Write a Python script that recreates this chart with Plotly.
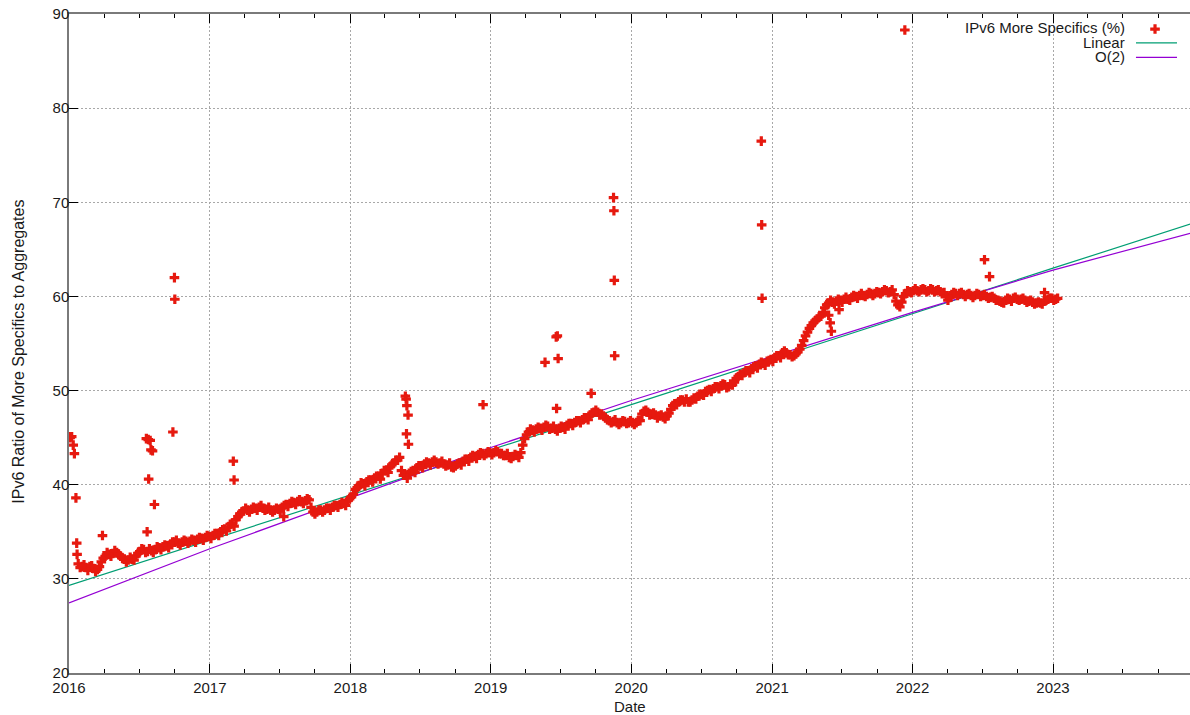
import pandas as pd
import plotly.graph_objects as go

# ---------------- data ----------------
# main series: samples every 10 days starting 2016-01-25
series_start = "2016-01-25"
ratio = [
    # 2016
    31.6, 31.3, 31.2, 31.3, 31.1, 31.0, 31.8, 32.4, 32.6, 32.7,
    32.8, 32.4, 32.1, 32.0, 32.1, 32.4, 32.9, 33.1, 32.9, 33.0,
    33.1, 33.3, 33.4, 33.5, 33.7, 33.9, 33.8, 33.9, 34.0, 34.0,
    34.1, 34.2, 34.3, 34.4, 34.5,
    # 2017
    34.6, 34.8, 35.0, 35.3, 35.5, 35.9, 36.3, 36.9, 37.2, 37.3,
    37.4, 37.5, 37.6, 37.5, 37.4, 37.3, 37.3, 37.4, 37.6, 37.9,
    38.0, 38.1, 38.2, 38.2, 38.3, 38.4, 37.1, 37.1, 37.3, 37.3,
    37.5, 37.6, 37.8, 37.9, 38.0, 38.3,
    # 2018
    38.7, 39.5, 39.9, 40.1, 40.3, 40.5, 40.7, 40.9, 41.2, 41.5,
    41.9, 42.3, 42.6, 41.5, 41.0, 41.2, 41.5, 41.8, 42.0, 42.2,
    42.3, 42.4, 42.4, 42.3, 42.2, 42.1, 41.9, 42.0, 42.3, 42.5,
    42.7, 42.9, 43.0, 43.2, 43.3, 43.3, 43.4,
    # 2019
    43.4, 43.5, 43.3, 43.1, 42.9, 43.0, 43.1, 43.4, 44.9, 45.6,
    45.8, 45.9, 46.0, 46.1, 46.2, 46.0, 45.9, 46.0, 46.1, 46.3,
    46.5, 46.6, 46.8, 46.9, 47.1, 47.4, 47.7, 47.7, 47.5, 47.1,
    46.8, 46.7, 46.6, 46.6, 46.7, 46.6,
    # 2020
    46.6, 46.6, 46.8, 47.8, 47.7, 47.5, 47.4, 47.3, 47.2, 47.3,
    48.0, 48.6, 48.8, 49.0, 49.1, 48.8, 49.2, 49.4, 49.6, 49.9,
    50.1, 50.2, 50.4, 50.5, 50.6, 50.4, 50.6, 51.3, 51.7, 51.9,
    52.1, 52.3, 52.6, 52.8, 52.9, 53.1, 53.3,
    # 2021
    53.5, 53.7, 54.0, 54.0, 53.8, 53.7, 54.1, 54.8, 55.8, 56.6,
    57.2, 57.6, 57.9, 58.8, 59.3, 59.4, 59.5, 59.6, 59.7, 59.7,
    59.9, 60.0, 60.1, 60.1, 60.2, 60.3, 60.3, 60.4, 60.5, 60.6,
    60.5, 60.2, 59.1, 59.4, 60.3, 60.5,
    # 2022
    60.6, 60.6, 60.7, 60.7, 60.6, 60.7, 60.6, 60.5, 60.4, 59.6,
    60.2, 60.3, 60.3, 60.2, 60.2, 60.1, 60.1, 60.2, 60.1, 60.0,
    59.9, 59.8, 59.6, 59.4, 59.6, 59.7, 59.8, 59.7, 59.7, 59.6,
    59.5, 59.4, 59.3, 59.3, 59.5, 59.7, 59.8, 59.7,
]

# second set of daily readings, 5 days after each of the above (the band's spread)
series_b_start = "2016-01-30"
ratio_b = [
    # 2016
    31.2, 31.5, 30.9, 31.4, 30.8, 31.3, 32.2, 32.8, 32.4, 33.0,
    32.6, 32.2, 31.8, 32.3, 32.0, 32.7, 33.2, 32.8, 33.2, 32.8,
    33.4, 33.1, 33.6, 33.3, 33.9, 34.1, 33.6, 34.1, 33.8, 34.2,
    33.9, 34.4, 34.1, 34.6, 34.3,
    # 2017
    34.8, 34.6, 35.2, 35.1, 35.8, 35.6, 36.6, 37.1, 37.5, 37.1,
    37.6, 37.3, 37.8, 37.3, 37.6, 37.1, 37.5, 37.2, 37.8, 37.7,
    38.2, 37.9, 38.4, 38.0, 38.5, 37.6, 36.9, 37.3, 37.1, 37.5,
    37.3, 37.8, 37.6, 38.1, 37.8, 38.5,
    # 2018
    39.0, 39.7, 40.2, 39.9, 40.5, 40.3, 40.9, 40.6, 41.5, 41.3,
    42.1, 42.6, 42.9, 41.0, 40.7, 41.4, 41.3, 42.0, 41.8, 42.4,
    42.1, 42.6, 42.2, 42.5, 42.0, 42.3, 41.8, 42.2, 42.1, 42.7,
    42.5, 43.1, 42.8, 43.4, 43.1, 43.5, 43.2,
    # 2019
    43.6, 43.3, 43.1, 43.3, 42.8, 43.2, 42.9, 44.2, 45.3, 45.9,
    45.6, 46.1, 45.8, 46.3, 45.9, 46.2, 45.7, 46.2, 45.9, 46.5,
    46.3, 46.8, 46.6, 47.1, 46.9, 47.6, 47.9, 47.4, 47.3, 46.9,
    46.6, 46.9, 46.4, 46.8, 46.5, 46.8,
    # 2020
    46.4, 46.8, 47.5, 47.9, 47.4, 47.6, 47.1, 47.4, 47.0, 47.6,
    48.4, 48.5, 49.0, 48.8, 48.8, 49.0, 49.1, 49.6, 49.5, 50.0,
    49.9, 50.4, 50.2, 50.7, 50.3, 50.7, 50.9, 51.5, 51.6, 52.1,
    51.9, 52.5, 52.4, 53.0, 52.7, 53.2, 53.1,
    # 2021
    53.7, 53.5, 54.2, 53.8, 53.6, 53.9, 54.4, 55.3, 56.2, 56.9,
    57.4, 57.8, 58.3, 59.1, 59.6, 59.2, 59.7, 59.4, 59.9, 59.6,
    60.1, 59.8, 60.3, 60.0, 60.4, 60.1, 60.5, 60.3, 60.7, 60.4,
    60.7, 59.5, 58.9, 60.0, 60.6, 60.4,
    # 2022
    60.8, 60.5, 60.8, 60.5, 60.8, 60.5, 60.7, 60.3, 60.0, 59.9,
    60.4, 60.1, 60.4, 60.0, 60.3, 59.9, 60.3, 60.0, 60.2, 59.8,
    60.0, 59.6, 59.5, 59.3, 59.8, 59.5, 59.9, 59.6, 59.8, 59.4,
    59.6, 59.2, 59.4, 59.2, 59.6, 59.8, 59.6, 59.8,
]

# isolated points / spikes
spike_dates = [
    "2016-01-01", "2016-01-04", "2016-01-08", "2016-01-12", "2016-01-15",
    "2016-01-19", "2016-01-21", "2016-01-22", "2016-03-28",
    "2016-07-20", "2016-07-25", "2016-07-30", "2016-08-01", "2016-08-05",
    "2016-07-26", "2016-08-10", "2016-07-22", "2016-09-27",
    "2016-10-01", "2016-10-02",
    "2017-03-03", "2017-03-05", "2017-07-12",
    "2018-05-24", "2018-05-26", "2018-05-28", "2018-05-31", "2018-05-27", "2018-06-01",
    "2018-12-12",
    "2019-05-22", "2019-06-20", "2019-06-23", "2019-06-25", "2019-06-21",
    "2019-09-19",
    "2019-11-16", "2019-11-17", "2019-11-18", "2019-11-19",
    "2020-12-04", "2020-12-05", "2020-12-06",
    "2021-05-28", "2021-06-01", "2021-06-04", "2021-06-24",
    "2021-12-12",
    "2022-07-07", "2022-07-20", "2022-12-10",
]
spike_values = [
    45.1, 45.0, 45.1, 44.2, 43.3,
    38.6, 33.8, 32.6, 34.6,
    44.9, 44.8, 44.7, 43.7, 43.6,
    40.6, 37.9, 35.0, 45.6,
    62.0, 59.7,
    42.5, 40.5, 36.6,
    49.4, 49.1, 48.4, 47.4, 45.4, 44.3,
    48.5,
    53.0, 55.7, 55.8, 53.4, 48.1,
    49.7,
    70.5, 69.1, 61.7, 53.7,
    76.5, 67.6, 59.8,
    58.0, 57.2, 56.3, 58.6,
    88.3,
    63.9, 62.1, 60.4,
]

# fitted curves, read at each year boundary
fit_dates = ["2016-01-01", "2017-01-01", "2018-01-01", "2019-01-01", "2020-01-01",
             "2021-01-01", "2022-01-01", "2023-01-01", "2024-01-01"]
linear_fit = [29.3, 34.1, 38.9, 43.7, 48.5, 53.35, 58.2, 63.0, 67.8]
quad_fit = [27.45, 33.2, 38.6, 43.95, 48.95, 53.6, 58.3, 62.8, 66.8]

legend_labels = ["IPv6 More Specifics (%)", "Linear", "O(2)"]
x_title = "Date"
y_title = "IPv6 Ratio of More Specifics to Aggregates"

RED = "#e6190f"
GREEN = "#009e73"
PURPLE = "#9400d3"
FONT = "Liberation Sans, Arial, sans-serif"
TXT = "#1a1a1a"

# ---------------- figure ----------------
dates_a = pd.date_range(series_start, periods=len(ratio), freq="10D")
dates_b = pd.date_range(series_b_start, periods=len(ratio_b), freq="10D")
all_x = list(dates_a) + list(dates_b) + [pd.Timestamp(d) for d in spike_dates]
all_y = ratio + ratio_b + spike_values

fig = go.Figure()
fig.add_trace(go.Scatter(x=fit_dates, y=linear_fit, mode="lines",
                         line=dict(color=GREEN, width=1.2), name="Linear",
                         showlegend=False, hoverinfo="skip"))
fig.add_trace(go.Scatter(x=fit_dates, y=quad_fit, mode="lines",
                         line=dict(color=PURPLE, width=1.2), name="O(2)",
                         showlegend=False, hoverinfo="skip"))
fig.add_trace(go.Scatter(x=all_x, y=all_y, mode="markers",
                         marker=dict(symbol="cross", size=8, color=RED, line=dict(width=0)),
                         name=legend_labels[0], showlegend=False))

# legend sample marker on an overlay axis spanning the plot
fig.add_trace(go.Scatter(x=[0.9688], y=[0.9772], mode="markers", xaxis="x2", yaxis="y2",
                         marker=dict(symbol="cross", size=8, color=RED, line=dict(width=0)),
                         showlegend=False, hoverinfo="skip", cliponaxis=False))

axis_common = dict(
    showgrid=True, gridcolor="#a8a8a8", griddash="2px,2px", gridwidth=1,
    ticks="inside", ticklen=9, tickcolor="#000000", tickwidth=1,
    showline=True, linecolor="#7a7a7a", linewidth=1.5,
    tickfont=dict(family=FONT, size=15, color=TXT),
    zeroline=False,
)

fig.update_layout(
    width=1190, height=715,
    margin=dict(l=69, r=0, t=14, b=42),
    paper_bgcolor="white", plot_bgcolor="white",
    font=dict(family=FONT, size=15, color=TXT),
    xaxis=dict(
        type="date", range=["2016-01-01", "2023-12-23"],
        tick0="2016-01-01", dtick="M12", tickformat="%Y",
        mirror="ticks",
        minor=dict(dtick="M3", ticks="inside", ticklen=4, tickcolor="#000000", showgrid=False),
        **axis_common,
    ),
    yaxis=dict(
        range=[20, 90], dtick=10, tick0=20,
        mirror=False, ticklabelstandoff=-5,
        **axis_common,
    ),
    xaxis2=dict(range=[0, 1], overlaying="x", visible=False, fixedrange=True),
    yaxis2=dict(range=[0, 1], overlaying="y", visible=False, fixedrange=True),
    showlegend=False,
)

# axis titles
fig.add_annotation(text=x_title, xref="paper", yref="paper", x=0.5, y=-0.0511,
                   xanchor="center", yanchor="middle", showarrow=False,
                   font=dict(family=FONT, size=15, color=TXT))
fig.add_annotation(text=y_title, xref="paper", yref="paper", x=-0.0458, y=0.487,
                   xanchor="center", yanchor="middle", showarrow=False, textangle=-90,
                   font=dict(family=FONT, size=16, color=TXT))

# white box behind the legend (hides the grid there)
fig.add_shape(type="rect", xref="paper", yref="paper", x0=0.79, x1=1.0, y0=0.923, y1=1.0,
              fillcolor="white", line=dict(width=0), layer="between")
# legend line samples
fig.add_shape(type="line", xref="paper", yref="paper", x0=0.9518, x1=0.9884, y0=0.9563, y1=0.9563,
              line=dict(color=GREEN, width=1.2))
fig.add_shape(type="line", xref="paper", yref="paper", x0=0.9518, x1=0.9884, y0=0.9342, y1=0.9342,
              line=dict(color=PURPLE, width=1.2))
for label, ypos in zip(legend_labels, [0.9795, 0.9575, 0.9355]):
    fig.add_annotation(text=label, xref="paper", yref="paper", x=0.9438, y=ypos,
                       xanchor="right", yanchor="middle", showarrow=False,
                       font=dict(family=FONT, size=15, color=TXT))

fig.write_html("out.html", config={"displayModeBar": False},
               post_script="document.body.style.margin='0';document.body.style.overflow='hidden';")
